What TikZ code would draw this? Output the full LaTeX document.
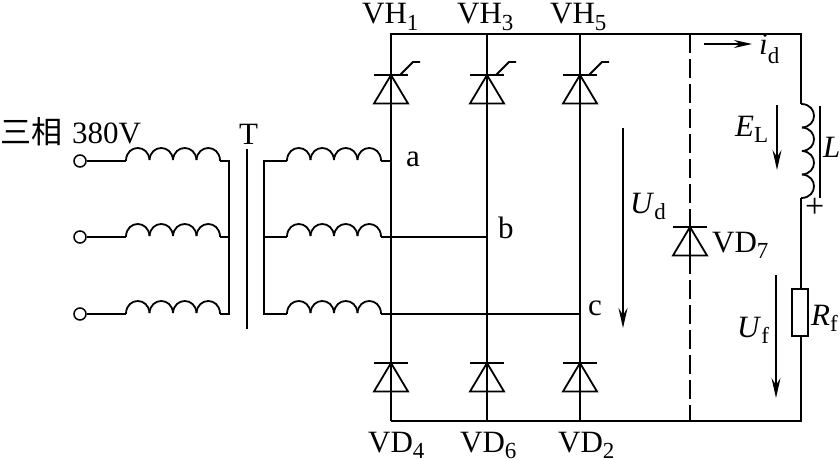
\documentclass[tikz,border=0pt]{standalone}
\usepackage{fontspec}
\setmainfont{Liberation Serif}
\newfontfamily\cjk{Noto Sans CJK SC}
\usetikzlibrary{arrows.meta}
\newcommand{\lab}[3][-6pt]{#2\raisebox{#1}{\fontsize{23}{23}\selectfont #3}}
\tikzset{
  wire/.style = {black, line width=1.8pt},
  term/.style = {circle, draw=black, line width=1.5pt, fill=white, inner sep=0pt, minimum size=12pt},
  txt/.style = {anchor=base west, inner sep=0pt, font=\fontsize{31}{33}\selectfont},
  volt/.style = {black, line width=1.7pt, -{Stealth[length=20pt,width=9pt,inset=7pt]}},
  coil/.pic = {
    \draw[wire] (0,0) -- (0,-1);
    \foreach \k in {0,23.5,47,70.5}
      \draw[wire] (\k,-1) .. controls (\k+1,-17) and (\k+22.5,-17) .. (\k+23.5,-1);
    \draw[wire] (94,-1) -- (94,0);
  },
  diode/.pic = {
    \draw[wire] (-17,0) -- (17,0);
    \draw[wire] (0,0) -- (-17,28.5) -- (17,28.5) -- cycle;
  },
  scr/.pic = {
    \draw[wire] (-17,0) -- (17,0);
    \draw[wire] (0,0) -- (-17,28.5) -- (17,28.5) -- cycle;
    \draw[wire] (9,0) -- (22,-13) -- (29,-13);
  }
}
\begin{document}
\begin{tikzpicture}[x=1pt, y=-1pt]
  \useasboundingbox (0,0) rectangle (840,460);
  % bridge corners and junctions
  \coordinate (tl) at (391,34);
  \coordinate (t3) at (487,34);
  \coordinate (t5) at (580,34);
  \coordinate (t7) at (690,34);
  \coordinate (tr) at (801,34);
  \coordinate (bl) at (391,421);
  \coordinate (b6) at (487,421);
  \coordinate (b2) at (580,421);
  \coordinate (b7) at (690,421);
  \coordinate (br) at (801,421);
  \coordinate (a) at (391,161);
  \coordinate (b) at (487,237);
  \coordinate (c) at (580,314);
  \coordinate (ab) at (391,237);
  \coordinate (ac) at (391,314);
  \coordinate (d7a) at (690,227);
  \coordinate (d7b) at (690,255);
  \coordinate (la) at (801,104);
  \coordinate (lb) at (801,198);
  \coordinate (ra) at (801,289);
  \coordinate (rb) at (801,336);
  % input side
  \node[term] (in1) at (80,161) {};
  \node[term] (in2) at (80,237) {};
  \node[term] (in3) at (80,314) {};
  \coordinate (p1) at (229,161);
  \coordinate (p2) at (229,237);
  \coordinate (p3) at (229,314);
  \coordinate (s1) at (264,161);
  \coordinate (s2) at (264,237);
  \coordinate (s3) at (264,314);
  \draw[wire] (in1) -- (126,161);
  \draw[wire] (in2) -- (126,237);
  \draw[wire] (in3) -- (126,314);
  \pic at (126,161) {coil};
  \pic at (126,237) {coil};
  \pic at (126,314) {coil};
  \draw[wire] (220,161) -- (p1) -- (p3) -- (220,314);
  \draw[wire] (220,237) -- (p2);
  \coordinate (coretop) at (247,149);
  \coordinate (corebot) at (247,329);
  \draw[wire] (coretop) -- (corebot);
  \draw[wire] (287,161) -- (s1) -- (s3) -- (287,314);
  \draw[wire] (s2) -- (287,237);
  \pic at (287,161) {coil};
  \pic at (287,237) {coil};
  \pic at (287,314) {coil};
  \draw[wire] (381,161) -- (a);
  \draw[wire] (381,237) -- (ab) -- (b);
  \draw[wire] (381,314) -- (ac) -- (c);
  % bridge
  \draw[wire] (bl) -- (tl) -- (tr) -- (la);
  \draw[wire] (t3) -- (b6);
  \draw[wire] (t5) -- (b2);
  \draw[wire] (bl) -- (br) -- (rb);
  \draw[wire] (lb) -- (ra);
  \pic at (391,75) {scr};
  \pic at (487,75) {scr};
  \pic at (580,75) {scr};
  \pic at (391,363) {diode};
  \pic at (487,363) {diode};
  \pic at (580,363) {diode};
  % freewheel branch
  \draw[wire, dash pattern=on 19pt off 6pt] (t7) -- (d7a);
  \draw[wire, dash pattern=on 19pt off 6pt] (d7b) -- (b7);
  \draw[wire] (d7a) -- (d7b);
  \pic at (690,227) {diode};
  % load
  \pic[rotate=-90] at (la) {coil};
  \node[draw=black, line width=1.6pt, fill=white, minimum width=16pt, minimum height=47pt, inner sep=0pt] (rf) at (800,312.5) {};
  \coordinate (lbar1) at (820,106);
  \coordinate (lbar2) at (820,198);
  \draw[black, line width=1.7pt] (lbar1) -- (lbar2);
  % arrows
  \coordinate (ida) at (704,44);
  \coordinate (idb) at (752,44);
  \draw[black, line width=1.3pt, -{Stealth[length=18pt,width=8pt,inset=6pt]}] (ida) -- (idb);
  \coordinate (ela) at (777,105);
  \coordinate (elb) at (777,170);
  \draw[volt] (ela) -- (elb);
  \coordinate (uda) at (623,128);
  \coordinate (udb) at (623,328);
  \draw[volt] (uda) -- (udb);
  \coordinate (ufa) at (776,275);
  \coordinate (ufb) at (776,398);
  \draw[volt] (ufa) -- (ufb);
  % labels
  \node[txt] (lin) at (0,143) {{\cjk 三相}\hspace{10pt}380V};
  \node[txt] (lt) at (239,144) {T};
  \node[txt] (lvh1) at (362,24) {\lab{VH}{1}};
  \node[txt] (lvh3) at (457,24) {\lab{VH}{3}};
  \node[txt] (lvh5) at (550,24) {\lab{VH}{5}};
  \node[txt] (lvd4) at (368,452) {\lab{VD}{4}};
  \node[txt] (lvd6) at (460,452) {\lab{VD}{6}};
  \node[txt] (lvd2) at (558,452) {\lab{VD}{2}};
  \node[txt] (lvd7) at (712,252) {\lab{VD}{7}};
  \node[txt] (la1) at (406,166) {a};
  \node[txt] (lb1) at (498,238) {b};
  \node[txt] (lc1) at (588,315) {c};
  \node[txt] (lud) at (630,213) {\lab{\textit{U}}{d}};
  \node[txt] (luf) at (737,337) {\lab{\textit{U}}{f}};
  \node[txt] (lel) at (735,136) {\lab{\textit{E}}{L}};
  \node[txt] (ll) at (823,157) {\textit{L}};
  \node[txt] (lid) at (759,55) {\lab[-9pt]{\textit{i}}{d}};
  \node[txt] (lrf) at (811,325) {\lab{\textit{R}}{f}};
  \node[anchor=base west, inner sep=0pt, font=\fontsize{34}{34}\selectfont] (lplus) at (805,217) {+};
\end{tikzpicture}
\end{document}
